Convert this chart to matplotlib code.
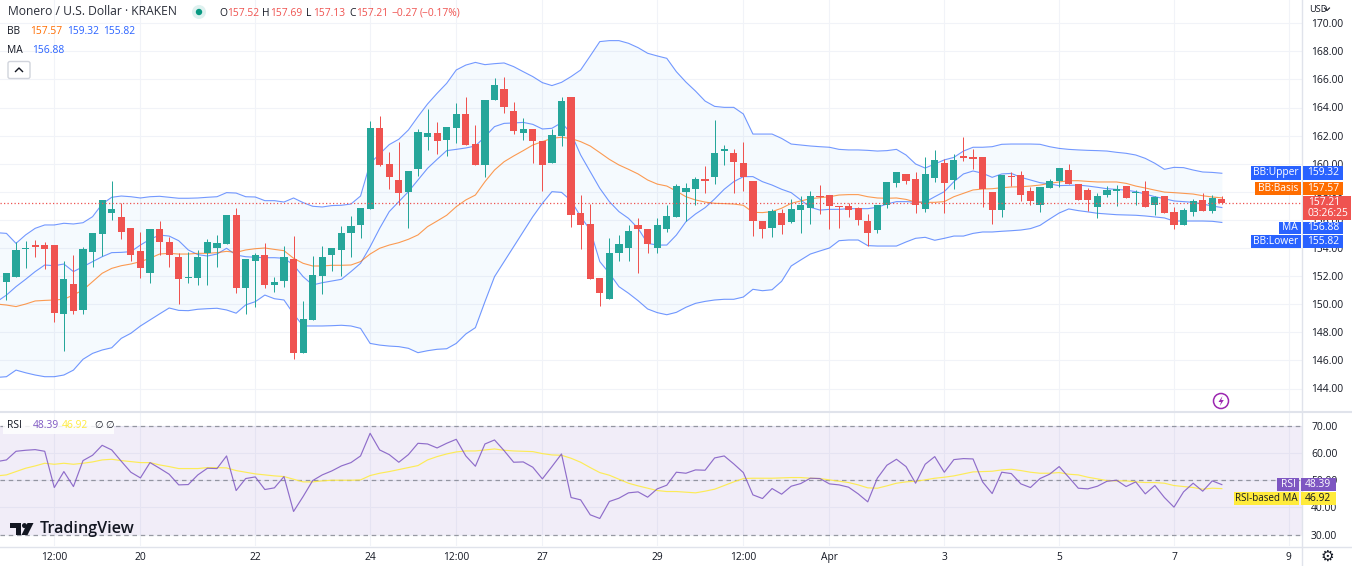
import numpy as np
import matplotlib
matplotlib.use("Agg")
import matplotlib.pyplot as plt
from matplotlib.patches import Rectangle, Circle, Polygon, FancyBboxPatch

plt.rcParams['font.family'] = ['Open Sans', 'DejaVu Sans']

W, H = 1352, 566

candle_idx = list(range(-6, 123))

opens = [
    153.90,151.60,151.91,153.90,154.19,154.19,154.19,149.30,151.44,149.58,153.72,155.03,156.51,156.23,155.42,153.78,
    152.19,155.32,154.42,153.33,151.86,151.89,153.66,154.00,154.30,156.34,151.17,153.09,153.50,151.34,151.63,153.21,
    146.50,148.86,152.00,153.50,
    153.86,155.04,155.66,156.80,162.54,159.98,158.84,157.99,159.60,161.87,162.21,161.69,162.54,163.54,161.41,159.91,
    164.53,165.34,163.75,162.16,162.45,161.59,160.07,161.97,164.77,156.47,155.71,151.86,150.39,153.67,154.00,155.61,
    155.38,154.00,155.38,156.23,
    157.96,158.18,158.91,159.08,160.93,160.79,160.03,158.80,155.90,155.42,156.47,155.85,156.70,156.83,157.70,157.75,
    156.99,157.01,156.85,155.90,155.28,157.03,158.64,159.26,158.89,156.80,158.98,160.03,158.84,160.52,160.45,160.45,
    157.98,156.70,159.15,159.20,158.05,157.08,158.27,158.79,159.53,158.55,158.15,156.92,157.77,158.05,158.41,157.91,
    158.06,157.04,157.70,156.54,155.61,156.54,157.41,156.65,157.52]
highs = [
    153.95,152.24,154.45,154.52,154.56,154.42,154.19,153.07,153.48,154.04,155.09,157.41,158.79,157.22,155.42,155.13,
    155.32,155.94,154.75,153.61,153.73,153.85,154.66,154.92,156.34,156.84,153.21,153.61,154.33,151.94,154.13,154.85,
    150.25,153.42,154.13,154.00,
    155.59,156.27,156.85,163.06,163.39,160.83,161.55,159.46,162.49,163.92,162.94,162.59,164.30,164.77,162.73,164.53,
    166.08,166.15,164.39,163.25,162.45,161.59,162.49,164.77,164.77,157.75,157.13,151.86,154.68,154.92,155.66,156.13,
    155.38,156.11,157.04,158.53,
    158.60,159.03,159.84,163.10,161.31,161.03,161.55,158.80,155.90,156.75,156.75,157.50,157.70,158.08,158.50,157.75,
    156.99,157.20,156.95,156.42,157.08,158.73,159.40,159.26,159.40,160.50,160.97,160.30,160.69,161.87,161.07,160.45,
    157.98,159.20,159.43,159.48,158.36,158.34,158.94,159.69,159.98,158.55,158.27,157.89,158.39,158.46,158.41,158.13,
    158.75,157.70,157.70,156.90,156.82,157.47,157.93,157.74,157.69]
lows = [
    152.10,150.30,151.91,152.55,153.38,152.48,148.73,146.69,149.30,149.30,152.67,153.43,155.99,154.66,153.05,151.88,
    151.53,153.52,152.67,150.01,151.53,151.39,151.39,152.67,154.30,150.82,149.30,149.77,151.12,150.88,151.24,146.09,
    146.50,148.86,150.76,152.39,
    152.01,153.38,154.71,156.80,159.83,158.22,157.09,155.45,159.12,160.97,160.69,160.55,161.45,161.36,159.88,159.03,
    164.53,163.63,162.11,161.69,160.07,158.08,160.07,161.26,155.52,153.95,151.82,149.87,150.39,153.05,153.10,152.20,
    153.67,153.67,155.14,156.23,
    155.90,157.08,157.89,158.55,159.89,157.94,158.08,154.85,154.71,154.80,155.00,155.80,155.09,155.70,156.42,155.33,
    155.42,156.18,155.61,154.13,155.04,156.84,158.35,158.55,156.46,156.56,158.70,156.50,158.17,160.21,159.65,156.90,
    155.71,156.23,158.41,157.37,157.04,156.56,158.27,158.32,158.55,157.41,156.66,156.14,157.63,157.01,157.56,157.06,
    156.92,156.37,156.49,155.33,155.61,156.28,156.65,156.46,157.13]
closes = [
    152.25,152.24,153.85,154.00,154.06,153.90,149.39,151.79,149.50,153.95,155.09,157.41,156.75,155.13,153.50,152.55,
    155.32,154.42,153.50,151.81,151.94,153.38,154.42,154.35,156.34,151.17,153.21,153.47,151.34,151.60,153.33,146.50,
    148.94,152.08,153.33,154.00,
    155.04,155.54,156.85,162.54,159.88,159.08,157.89,159.46,162.26,162.21,161.59,162.59,163.54,161.36,159.88,164.53,
    165.58,164.06,162.33,162.49,161.64,159.88,162.01,164.48,156.37,155.66,151.82,150.77,153.67,154.28,155.18,155.38,
    154.28,155.66,156.28,158.41,
    158.27,158.89,158.74,160.79,161.07,160.12,159.04,155.90,155.35,156.61,155.66,156.75,157.03,157.70,157.63,156.99,
    156.92,156.70,156.00,155.09,157.08,158.69,159.40,158.74,157.03,159.26,160.26,158.65,160.26,160.43,160.36,158.18,
    156.70,159.20,159.03,157.77,157.36,158.34,158.77,159.69,158.55,157.41,157.39,157.70,158.15,158.17,157.56,158.00,
    156.92,157.60,156.49,155.61,156.68,157.37,156.65,157.53,157.21]

bb_upper = [
    155.09,155.04,154.33,154.93,155.4,155.64,155.64,155.76,155.71,155.8,156.23,157.13,157.61,157.7,157.65,157.56,157.65,
    157.68,157.61,157.54,157.54,157.56,157.61,157.65,157.94,157.91,157.65,157.63,157.37,157.37,157.27,157.56,157.23,
    156.97,156.92,157.02,157.04,
    157.13,157.7,160.03,160.69,161.36,161.74,162.4,163.35,164.25,165.01,165.72,166.67,167.02,167.21,167.05,167.12,167.17,
    166.91,166.55,166.2,165.77,165.56,165.79,166.2,166.67,167.67,168.69,168.76,168.76,168.57,168.26,167.86,167.67,167.5,166.55,
    165.81,165.17,164.46,164.08,164.01,164.01,163.54,162.11,162.11,162.11,161.8,161.4,161.33,161.26,161.21,161.17,161.02,
    160.98,160.98,160.95,160.9,160.93,161.02,160.62,159.98,159.69,159.98,160.27,160.45,160.9,161.17,161.17,161.21,
    161.38,161.4,161.4,161.4,161.38,161.21,161.09,161.02,160.98,160.95,160.93,160.9,160.81,160.74,160.62,160.38,160.03,
    159.6,159.74,159.72,159.55,159.41,159.38,159.32]
bb_lower = [
    144.79,144.84,145.31,145.12,144.96,144.84,144.84,144.96,145.31,146.08,146.5,146.74,146.9,147.57,147.93,148.45,148.88,
    149.31,149.73,149.56,149.54,149.64,149.68,149.71,149.59,149.36,149.95,150.18,150.65,150.39,150.3,149.31,148.45,148.45,
    148.45,148.47,148.5,
    148.45,148.28,147.21,147.09,147.02,146.98,146.86,146.55,146.69,146.79,146.83,147.21,147.88,148.33,150.18,151.96,153.03,
    154.09,155.16,156.23,157.18,158.01,157.96,157.37,156.23,155.28,153.03,152.2,151.25,150.78,150.25,
    149.66,149.4,149.25,149.42,149.78,150.06,150.2,150.3,150.35,150.35,150.51,151.06,150.96,151.03,151.63,152.72,153.15,
    153.57,153.79,154.0,
    154.52,154.57,154.57,154.17,154.14,154.14,154.14,154.43,154.69,154.76,154.55,154.69,154.85,154.85,155.04,155.14,155.14,
    155.19,155.23,155.28,155.38,155.61,156.06,156.49,156.78,156.66,156.57,156.47,156.42,156.37,156.35,156.33,156.28,156.21,
    156.14,155.92,155.92,155.92,155.92,155.9,155.82]
bb_basis = [
    150.01,149.94,149.83,150.01,150.23,150.27,150.3,150.35,150.66,151.01,151.61,152.2,152.55,152.74,152.86,153.03,153.27,
    153.57,153.62,153.57,153.57,153.62,153.62,153.67,153.76,153.69,153.86,153.95,154.0,153.9,153.81,153.27,152.91,152.72,
    152.72,152.77,152.77,
    152.79,153.03,153.57,153.98,154.21,154.38,154.62,154.93,155.52,155.92,156.33,156.94,157.42,157.77,158.72,159.55,160.14,
    160.55,160.93,161.33,161.57,161.81,161.88,161.79,161.57,161.26,160.79,160.31,159.91,159.6,159.27,158.84,158.55,158.41,158.05,
    157.65,157.42,157.27,157.18,157.16,157.13,157.04,156.54,156.52,156.59,156.83,157.18,157.35,157.51,157.58,157.65,157.77,
    157.8,157.8,157.65,157.56,157.54,157.56,157.46,157.27,157.25,157.25,157.3,157.65,157.89,158.13,158.2,158.22,
    158.29,158.34,158.36,158.41,158.48,158.6,158.7,158.79,158.79,158.74,158.7,158.7,158.7,158.6,158.41,158.27,158.12,157.98,
    157.94,157.89,157.84,157.72,157.63,157.57]
ma_line = [
    150.18,150.65,151.25,151.77,152.32,152.79,152.74,152.86,152.32,152.67,153.03,153.38,153.67,153.69,153.74,154.21,154.62,
    154.92,154.85,154.52,153.86,153.53,153.43,153.57,153.98,153.5,153.38,153.34,153.31,153.31,153.27,152.79,151.96,151.37,
    151.53,151.65,151.77,
    152.32,152.91,154.09,155.4,156.59,157.3,158.01,158.84,159.67,160.31,160.93,161.02,161.12,161.26,161.92,162.64,162.87,
    162.9,162.94,162.8,162.47,162.52,162.92,162.16,160.62,159.43,158.25,157.3,156.59,156.11,155.4,154.33,154.21,154.21,154.92,
    155.87,156.42,156.87,157.49,158.18,158.72,159.08,159.08,158.72,158.48,158.18,157.94,157.42,156.9,156.7,156.75,156.75,
    156.8,156.8,156.8,156.9,157.13,157.3,157.3,157.27,157.27,157.65,158.01,158.72,159.27,159.48,159.32,159.03,
    159.27,159.31,159.03,158.84,158.65,158.56,158.44,158.46,158.48,158.41,158.32,158.22,158.17,158.12,158.01,157.84,157.65,
    157.51,157.35,157.3,157.25,157.13,156.99,156.88]
rsi = [
    56.83,57.44,60.61,60.98,61.22,60.61,47.32,53.17,47.68,57.2,59.15,62.8,61.1,56.95,52.93,50.85,56.46,54.39,52.2,48.29,
    48.41,51.95,54.39,54.27,58.9,46.22,50.61,51.22,46.59,47.2,51.34,38.54,44.02,49.88,51.95,53.41,55.24,
    56.46,58.9,67.2,61.1,59.39,56.59,59.39,63.54,63.29,61.83,63.54,65,58.9,55.12,63.29,64.76,60.85,56.59,56.71,54.76,50.49,
    55,59.63,43.66,42.8,37.32,35.98,42.2,43.41,45.37,45.73,43.78,46.83,48.17,52.93,
    52.56,53.78,53.66,58.17,58.9,55.98,52.8,44.63,43.29,46.95,44.88,47.8,48.78,50.73,50.61,48.66,48.29,47.44,45,42.07,50.73,
    55.49,57.68,55,48.9,55.85,58.66,52.93,57.56,57.93,57.8,49.39,45.12,52.93,
    52.44,48.66,47.32,50.61,52.2,55,51.1,47.07,46.83,47.8,49.63,50,47.68,49.39,45,48.05,43.66,40.12,45.73,48.9,45.98,49.76,48.39]
rsi_ma = [
    51.59,51.95,53.17,54.39,55.24,56.22,55.85,56.22,55.85,56.22,56.71,57.44,57.68,57.2,56.83,56.46,56.46,55.61,55,54.27,
    54.27,54.27,54.63,54.63,54.51,53.54,52.93,52.32,51.95,51.59,51.34,50.37,49.39,49.39,49.76,50,50,
    50,50.12,51.71,52.56,53.17,53.9,54.63,55.37,57.44,58.66,59.63,60.37,60.73,60.73,61.1,61.46,60.98,60.73,60.61,60.49,59.76,
    59.27,59.15,58.05,56.59,54.63,52.8,51.83,50.37,48.9,47.93,47.07,46.22,45.85,45.85,
    45.61,45.37,45.98,46.71,48.05,49.39,50.61,50.73,50.73,50.73,50.85,50.98,50.98,50.73,50.61,50.12,49.63,49.15,48.29,47.2,
    47.07,47.93,48.9,49.39,49.63,50.12,50.73,51.1,51.59,52.32,53.05,53.17,53.29,53.78,54.02,
    53.54,52.93,52.56,52.56,52.8,52.2,51.95,51.1,50.49,49.88,49.76,49.76,49.39,49.15,49.15,48.9,48.05,47.68,47.32,46.71,47.07,46.92]

time_tick_pos = [0, 9, 21, 33, 42, 51, 63, 72, 81, 93, 105, 117, 129]
time_tick_labels = ['12:00', '20', '22', '24', '12:00', '27', '29', '12:00', 'Apr', '3', '5', '7', '9']
price_ticks = [144, 146, 148, 150, 152, 154, 156, 158, 160, 162, 164, 166, 168, 170]
rsi_ticks = [30, 40, 50, 60, 70]
last_price = 157.21

UP, DOWN = '#26a69a', '#ef5350'
GRID = '#f1f3f8'
BORDER = '#e0e3eb'
TXT = '#131722'
BLUE = '#2962ff'
ORANGE = '#ff6d00'
PURPLE = '#7e57c2'
YELLOW = '#ffeb3b'
FS = 7.4

fig = plt.figure(figsize=(W / 100, H / 100), dpi=100, facecolor='white')
PANE_R = 1302
ax = fig.add_axes([0, (H - 411) / H, PANE_R / W, 411 / H])
ax_r = fig.add_axes([0, (H - 546) / H, PANE_R / W, (546 - 412) / H])

# candle index to pixel: x = 54.3 + 9.57 k
xlim = (-54.3 / 9.57, (PANE_R - 54.3) / 9.57)
for a in (ax, ax_r):
    a.set_xlim(*xlim)
    a.set_facecolor('white')
    for s in a.spines.values():
        s.set_visible(False)
    a.set_xticks(time_tick_pos)
    a.grid(axis='both', color=GRID, lw=0.8, zorder=0)
    a.set_axisbelow(True)
    a.yaxis.tick_right()
    a.tick_params(length=0, labelsize=FS, colors=TXT, pad=6.5)
ax.set_ylim(144 - 22.5 / 14.05, 144 + 388.5 / 14.05)
ax.set_yticks(price_ticks, [f'{v:.2f}' for v in price_ticks])
ax.tick_params(axis='x', labelbottom=False)

x = np.array(candle_idx, dtype=float)
o, h, l, c = map(np.array, (opens, highs, lows, closes))
col = [UP if ci >= oi else DOWN for oi, ci in zip(o, c)]

ax.fill_between(x, bb_lower, bb_upper, color='#2196f3', alpha=0.045, lw=0, zorder=1)
ax.plot(x, bb_upper, color=BLUE, lw=0.8, alpha=0.65, zorder=2)
ax.plot(x, bb_lower, color=BLUE, lw=0.8, alpha=0.65, zorder=2)
ax.plot(x, ma_line, color=BLUE, lw=0.8, alpha=0.65, zorder=2)
ax.plot(x, bb_basis, color=ORANGE, lw=0.8, alpha=0.68, zorder=2)
ax.vlines(x, l, h, colors=col, lw=0.72, zorder=3)
ax.bar(x, np.maximum(np.abs(c - o), 0.06), bottom=np.minimum(o, c), width=7.2 / 9.57,
       color=col, lw=0, zorder=4)
ax.axhline(last_price, color=DOWN, lw=0.9, ls=(0, (1, 1.8)), zorder=5)

# RSI pane
ax_r.set_ylim(70 - (546 - 425.67) / 2.7275, 70 + (425.67 - 412) / 2.7275)
ax_r.set_yticks(rsi_ticks, [f'{v:.2f}' for v in rsi_ticks])
ax_r.set_xticks(time_tick_pos, time_tick_labels)
ax_r.tick_params(axis='x', pad=4.5)
ax_r.axhspan(30, 70, color=PURPLE, alpha=0.1, lw=0, zorder=1)
for v in (30, 50, 70):
    ax_r.axhline(v, color='#787b86', lw=0.9, ls=(0, (3.6, 3)), alpha=0.75, zorder=2)
ax_r.plot(x, rsi_ma, color=YELLOW, lw=0.85, alpha=0.85, zorder=3)
ax_r.plot(x, rsi, color=PURPLE, lw=0.85, alpha=0.85, zorder=4)

# pixel overlay
ov = fig.add_axes([0, 0, 1, 1], facecolor='none')
ov.set_xlim(0, W)
ov.set_ylim(H, 0)
ov.axis('off')
ov.plot([PANE_R, PANE_R], [0, H], color=BORDER, lw=1)
ov.plot([0, W], [411.5, 411.5], color=BORDER, lw=1.5)
ov.plot([0, W], [546.5, 546.5], color=BORDER, lw=1)


def t(px, py, s, color=TXT, size=FS, ha='left', **kw):
    return ov.text(px, py, s, color=color, fontsize=size, ha=ha, va='center', **kw)


# header legend
t(8, 11.5, 'Monero / U.S. Dollar · KRAKEN', size=8.75, color='#2a2e39')
ov.add_patch(Circle((199, 12), 7, color='#26a69a', alpha=0.15, lw=0))
ov.add_patch(Circle((199, 12), 3.2, color='#089981', lw=0))
for px, s, cl in [(219, 'O', TXT), (227, '157.52', DOWN), (262, 'H', TXT), (270, '157.69', DOWN),
                  (306, 'L', TXT), (313, '157.13', DOWN), (349, 'C', TXT), (356, '157.21', DOWN),
                  (391, '−0.27', DOWN), (420, '(−0.17%)', DOWN)]:
    t(px, 13, s, cl)
t(7.5, 31.5, 'BB')
t(30.5, 31.5, '157.57', ORANGE)
t(67, 31.5, '159.32', BLUE)
t(103, 31.5, '155.82', BLUE)
t(7.5, 50.5, 'MA')
t(32, 50.5, '156.88', BLUE)
ov.add_patch(FancyBboxPatch((8, 61.5), 22, 17, boxstyle='round,pad=0,rounding_size=2',
                            fc='white', ec='#d1d4dc', lw=1))
ov.plot([15.5, 19, 22.5], [71.5, 68, 71.5], color=TXT, lw=1)

# top-right currency label
t(1309, 9, 'USD', size=6.6)
ov.plot([1324.5, 1327, 1329.5], [8, 10.5, 8], color=TXT, lw=0.8)


def pill(x0, x1, y0, y1, fc, label=None, tc='white', size=FS):
    ov.add_patch(Rectangle((x0, y0), x1 - x0, y1 - y0, fc=fc, lw=0, zorder=8))
    if label:
        ov.text((x0 + x1) / 2, (y0 + y1) / 2, label, color=tc, fontsize=size, ha='center',
                va='center', zorder=9)


for lab, val, y0, y1, lx, fc in [('BB:Upper', '159.32', 166, 179.5, 1251, BLUE),
                                 ('BB:Basis', '157.57', 182, 195, 1254.5, ORANGE),
                                 ('MA', '156.88', 221.5, 234, 1279, BLUE),
                                 ('BB:Lower', '155.82', 234.5, 247.5, 1251, BLUE)]:
    pill(lx, 1301, y0, y1, fc, lab)
    pill(1302.5, 1343, y0, y1, fc, val)
pill(1302.5, 1351, 196, 219.5, DOWN)
ov.text(1308, 202.5, '157.21', color='white', fontsize=FS, va='center', zorder=9)
ov.text(1308, 213.5, '03:26:25', color='white', fontsize=FS, va='center', zorder=9)

pill(1277, 1299, 478, 491, PURPLE, 'RSI')
pill(1300.5, 1336, 478, 491, PURPLE, '48.39')
pill(1233.5, 1299, 492, 505, YELLOW, 'RSI-based MA', TXT, size=7.0)
pill(1300.5, 1336, 492, 505, YELLOW, '46.92', TXT)

# RSI legend
ov.add_patch(Rectangle((3, 420), 111, 14, fc='white', alpha=0.85, lw=0))
t(7.5, 425.5, 'RSI')
t(33, 425.5, '48.39', PURPLE)
t(62, 425.5, '46.92', YELLOW)
t(94, 425.5, '∅', TXT, family=['DejaVu Sans'], size=7)
t(105, 425.5, '∅', TXT, family=['DejaVu Sans'], size=7)

# TradingView mark
ov.add_patch(Polygon([(9.5, 523), (21, 523), (21, 535), (15.5, 535), (15.5, 528), (9.5, 528)], fc=TXT, lw=0))
ov.add_patch(Circle((24.5, 525.6), 2.5, fc=TXT, lw=0))
ov.add_patch(Polygon([(27.5, 523), (33.5, 523), (27.5, 535), (21.5, 535)], fc=TXT, lw=0))
t(39.5, 529, 'TradingView', size=11.6, fontweight=600, color=TXT)

# flash icon
ov.add_patch(Circle((1221, 401), 7.5, fc='white', ec='#9c27b0', lw=1.1))
ov.add_patch(Polygon([(1222.5, 396), (1218.5, 402), (1221, 402), (1219.8, 406), (1223.8, 400), (1221.2, 400)],
                     fc='#9c27b0', lw=0))
# settings gear
t(1327, 556.5, '⚙', size=11, ha='center', family=['DejaVu Sans'])

fig.savefig('out.png', dpi=100, facecolor='white')
